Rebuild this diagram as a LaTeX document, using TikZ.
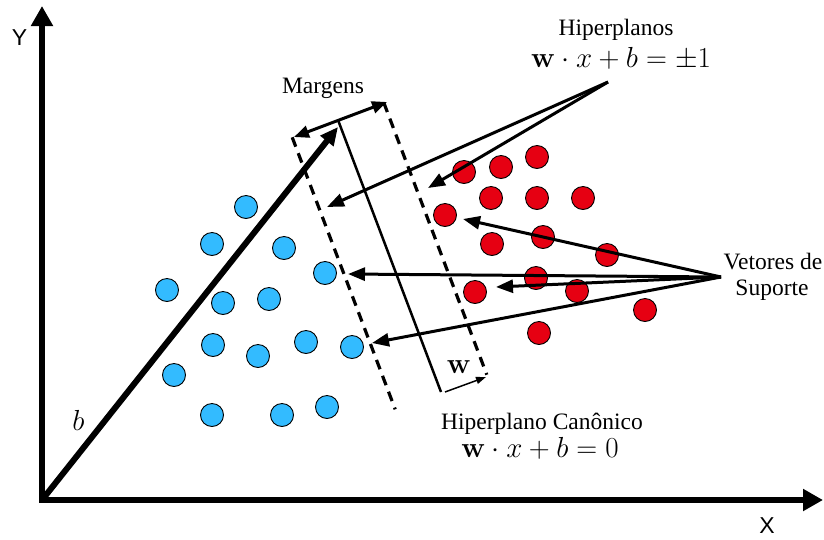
\RequirePackage{fix-cm}
\documentclass[tikz,border=0pt]{standalone}
\usepackage[no-math]{fontspec}
\setmainfont{Liberation Serif}
\newfontfamily\axisfont{Liberation Sans}
\usetikzlibrary{arrows.meta}
\definecolor{bluept}{RGB}{51,187,255}
\definecolor{redpt}{RGB}{230,0,18}
\begin{document}
\begin{tikzpicture}[x=1pt,y=-1pt,
  bdot/.style={circle,draw=black,line width=0.9pt,fill=bluept,minimum size=23pt,inner sep=0pt},
  rdot/.style={circle,draw=black,line width=0.9pt,fill=redpt,minimum size=23pt,inner sep=0pt},
  lbl/.style={font=\fontsize{23.5}{27}\selectfont,anchor=base,inner sep=0pt},
  mlbl/.style={font=\fontsize{29}{33}\selectfont,anchor=base,inner sep=0pt},
  axlbl/.style={font=\axisfont\fontsize{23}{26}\selectfont,anchor=base,inner sep=0pt},
  axisline/.style={line width=6pt,line cap=rect,-{Triangle[length=20pt,width=21pt]}},
  ptr/.style={line width=3pt,-{Triangle[length=17pt,width=13pt]}},
  marginline/.style={line width=3.2pt,dash pattern=on 10pt off 7pt},
]
\useasboundingbox (0,0) rectangle (824,539);
% axes
\coordinate (O) at (42,500);
\coordinate (Ytip) at (42,6);
\coordinate (Xtip) at (823,500);
\draw[axisline] (O) -- (Ytip);
\draw[axisline] (O) -- (Xtip);
\node[axlbl] (ylab) at (19.5,45) {Y};
\node[axlbl] (xlab) at (767,533) {X};
% b vector
\coordinate (btip) at (338,127);
\draw[line width=6pt,-{Triangle[length=18pt,width=16pt]}] (O) -- (btip);
\node[mlbl] (blab) at (78.5,430) {$b$};
% hyperplanes
\coordinate (S1) at (338,120);
\coordinate (S2) at (441,392);
\coordinate (L1) at (292.2,137.3);
\coordinate (L2) at (395.2,409.3);
\coordinate (R1) at (383.8,102.7);
\coordinate (R2) at (486.8,374.7);
\draw[line width=2.5pt] (S1) -- (S2);
\draw[marginline] (L1) -- (L2);
\draw[marginline] (R1) -- (R2);
% dots
\foreach [count=\i] \p in {(246,207),(212,244),(284,248),(325,273),(167,290),(223,303),(269,299),(213,345),(258,356),(306,342),(352,347),(174,375),(212,415),(282,415),(327,407)}
  \node[bdot] (b\i) at \p {};
\foreach [count=\i] \p in {(464,172),(501,167),(537,157),(491,198),(537,198),(583,198),(445,215),(492,244),(543,237),(607,255),(536,278),(577,291),(475,292),(645,310),(539,333)}
  \node[rdot] (r\i) at \p {};
% margin double arrow
\coordinate (M1) at (294,137);
\coordinate (M2) at (387,102);
\draw[line width=3pt,{Triangle[length=15pt,width=12pt]}-{Triangle[length=15pt,width=12pt]}] (M1) -- (M2);
\node[lbl] (marg) at (323,93) {Margens};
% w arrow
\coordinate (w0) at (445,392);
\coordinate (w1) at (486,377);
\draw[line width=1.5pt,-{Triangle[length=10pt,width=7pt]}] (w0) -- (w1);
\node[mlbl] (wlab) at (459,373) {$\mathbf{w}$};
% Hiperplanos label and pointers
\node[lbl] (hip) at (616,35) {Hiperplanos};
\node[mlbl] (hipeq) at (621,67) {$\mathbf{w}\cdot x+b=\pm1$};
\coordinate (hs) at (608,82);
\coordinate (hl) at (327,207);
\coordinate (hr) at (428,188);
\draw[ptr] (hs) -- (hl);
\draw[ptr] (hs) -- (hr);
% canonical label
\node[lbl] (can) at (542,429) {Hiperplano Canônico};
\node[mlbl] (caneq) at (540,457) {$\mathbf{w}\cdot x+b=0$};
% support vectors
\node[lbl] (vet1) at (773,269) {Vetores de};
\node[lbl] (vet2) at (772,295) {Suporte};
\coordinate (vs) at (721,277);
\coordinate (v1) at (463,219);
\coordinate (v2) at (348,274);
\coordinate (v3) at (496,287);
\coordinate (v4) at (372,343);
\draw[ptr] (vs) -- (v1);
\draw[ptr] (vs) -- (v2);
\draw[ptr] (vs) -- (v3);
\draw[ptr] (vs) -- (v4);
\end{tikzpicture}
\end{document}
